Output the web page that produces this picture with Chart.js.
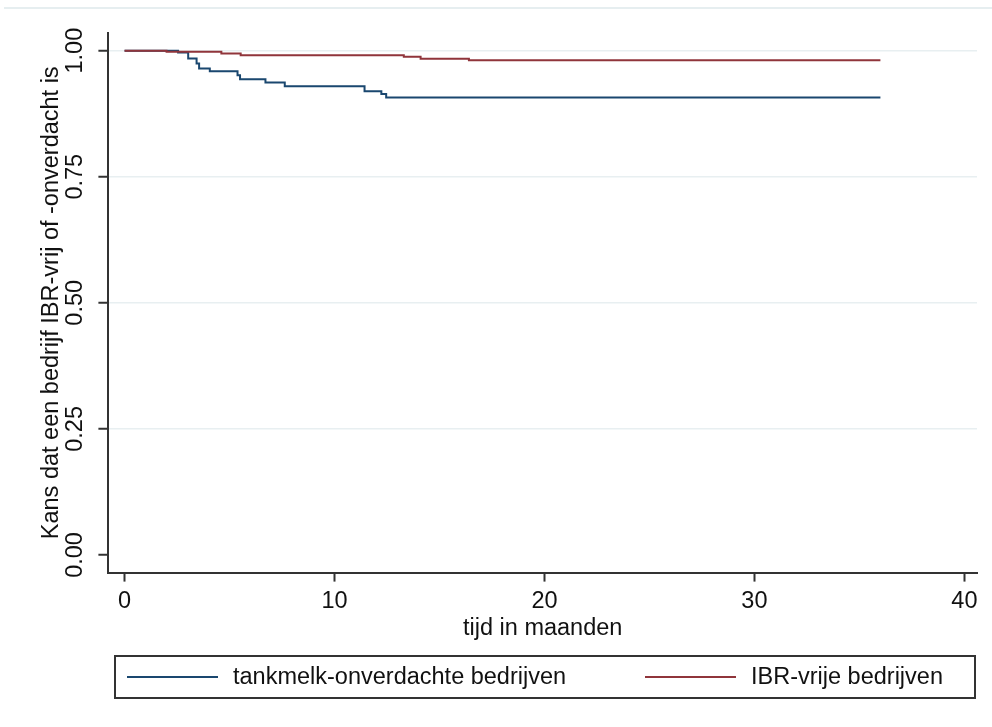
<!DOCTYPE html>
<html>
<head>
<meta charset="utf-8">
<script src="https://cdn.jsdelivr.net/npm/chart.js@4.4.1/dist/chart.umd.min.js"></script>
<style>
  html, body { margin: 0; padding: 0; background: #fff; }
  canvas { display: block; }
</style>
</head>
<body>
<canvas id="km" width="992" height="727"></canvas>
<script>
// Kaplan-Meier curves, values (time in months)
const tankTimes = [0, 2.55, 3.03, 3.43, 3.55, 4.06, 5.38, 5.5, 6.71, 7.63, 11.43, 12.23, 12.46, 36];
const tankSurv  = [1.0, 0.9965, 0.9845, 0.9746, 0.9647, 0.9594, 0.9514, 0.9435, 0.9369, 0.9296, 0.9197, 0.9138, 0.9072, 0.9072];
const ibrTimes  = [0, 2.0, 4.61, 5.53, 13.3, 14.1, 16.4, 36];
const ibrSurv   = [1.0, 0.998, 0.9945, 0.991, 0.988, 0.984, 0.981, 0.981];
const xTicks = [0, 10, 20, 30, 40];
const yTicks = [0, 0.25, 0.5, 0.75, 1];
const seriesLabels = ['tankmelk-onverdachte bedrijven', 'IBR-vrije bedrijven'];
const seriesColors = ['#1a476f', '#90353b'];

const FAMILY = "'Liberation Sans', Arial, sans-serif";
const SIZE = 23.5;
const INK = '#111';
const AXIS = '#333';

function points(times, surv) {
  return times.map((t, i) => ({ x: t, y: surv[i] }));
}

// legend drawn as a framed strip under the plot, plus the faint top rule
const boxedLegend = {
  id: 'boxedLegend',
  afterDraw(chart) {
    const ctx = chart.ctx;
    ctx.save();
    ctx.strokeStyle = '#e6eef0';
    ctx.lineWidth = 2;
    ctx.beginPath();
    ctx.moveTo(4, 8);
    ctx.lineTo(chart.width, 8);
    ctx.stroke();

    const left = 115, top = 656, w = 860, h = 42;
    ctx.strokeStyle = AXIS;
    ctx.lineWidth = 2;
    ctx.strokeRect(left, top, w, h);

    ctx.font = SIZE + 'px ' + FAMILY;
    ctx.textBaseline = 'middle';
    ctx.fillStyle = INK;
    const starts = [left + 12, left + 530];
    chart.data.datasets.forEach((ds, i) => {
      const x0 = starts[i];
      const yMid = top + h / 2;
      ctx.strokeStyle = ds.borderColor;
      ctx.lineWidth = 2;
      ctx.beginPath();
      ctx.moveTo(x0, yMid);
      ctx.lineTo(x0 + 91, yMid);
      ctx.stroke();
      ctx.fillText(ds.label, x0 + 106, yMid + 1);
    });
    ctx.restore();
  }
};

new Chart(document.getElementById('km').getContext('2d'), {
  type: 'line',
  data: {
    datasets: [
      {
        label: seriesLabels[0],
        data: points(tankTimes, tankSurv),
        borderColor: seriesColors[0],
        borderWidth: 2,
        stepped: true,
        pointRadius: 0,
        fill: false,
        order: 2
      },
      {
        label: seriesLabels[1],
        data: points(ibrTimes, ibrSurv),
        borderColor: seriesColors[1],
        borderWidth: 2,
        stepped: true,
        pointRadius: 0,
        fill: false,
        order: 1
      }
    ]
  },
  options: {
    responsive: false,
    animation: false,
    devicePixelRatio: 1,
    layout: { padding: { top: 33, left: 30, right: 15, bottom: 84 } },
    plugins: {
      legend: { display: false },
      tooltip: { enabled: false }
    },
    scales: {
      x: {
        type: 'linear',
        min: -0.77,
        max: 40.6,
        afterBuildTicks: (s) => { s.ticks = xTicks.map(v => ({ value: v })); },
        grid: { display: true, drawOnChartArea: false, tickColor: AXIS, tickWidth: 2, tickLength: 9 },
        border: { color: AXIS, width: 2 },
        ticks: { color: INK, font: { family: FAMILY, size: SIZE }, padding: 6, maxRotation: 0, autoSkip: false },
        title: {
          display: true,
          text: 'tijd in maanden',
          color: INK,
          font: { family: FAMILY, size: SIZE },
          padding: { top: -7, bottom: 0 }
        }
      },
      y: {
        type: 'linear',
        min: -0.035,
        max: 1.035,
        afterBuildTicks: (s) => { s.ticks = yTicks.map(v => ({ value: v })); },
        grid: {
          color: (c) => (c.tick && c.tick.value === 0 ? 'rgba(0,0,0,0)' : '#e8eff1'),
          lineWidth: 1.5,
          tickColor: AXIS,
          tickWidth: 2,
          tickLength: 10
        },
        border: { color: AXIS, width: 2 },
        ticks: {
          color: INK,
          font: { family: FAMILY, size: SIZE },
          minRotation: 90,
          maxRotation: 90,
          crossAlign: 'center',
          padding: 0,
          autoSkip: false,
          callback: (v) => v.toFixed(2)
        },
        title: {
          display: true,
          text: 'Kans dat een bedrijf IBR-vrij of -onverdacht is',
          color: INK,
          font: { family: FAMILY, size: SIZE },
          padding: { top: 7, bottom: 5 }
        }
      }
    }
  },
  plugins: [boxedLegend]
});
</script>
</body>
</html>
